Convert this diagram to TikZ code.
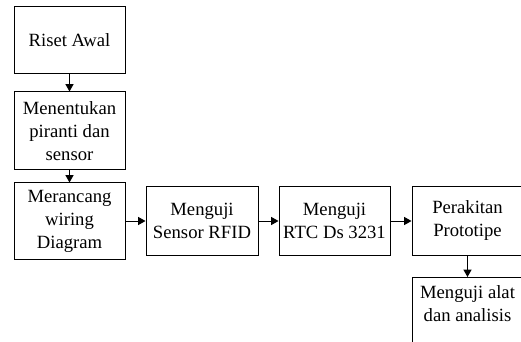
\documentclass[tikz,border=0pt]{standalone}
\usepackage{fontspec}
\setmainfont{Liberation Serif}
\usepackage{tikz}
\usetikzlibrary{arrows.meta,positioning}

\begin{document}
\begin{tikzpicture}[
  x=0.75pt, y=-0.75pt,
  font=\fontsize{14}{17.25}\selectfont,
  line width=0.75pt,
  stepbox/.style={draw, align=center, inner sep=1pt, minimum width=83.25pt, minimum height=51pt},
  flow/.style={-{Triangle[length=5.5pt, width=6pt]}}
]
\useasboundingbox (0,0) rectangle (521,342);
% left column
\node[stepbox, minimum height=50.25pt] (riset) at (69.5,40.5) {Riset Awal};
\node[stepbox, minimum height=58.5pt] (piranti) at (69.5,131) {Menentukan\\piranti dan\\sensor};
\node[stepbox, minimum height=57pt] (wiring) at (69.5,221) {Merancang\\wiring\\Diagram};
% row of tests
\node[stepbox, minimum width=84pt] (rfid) at (202,221) {Menguji\\Sensor RFID};
\node[stepbox] (rtc) at (334.5,221) {Menguji\\RTC Ds 3231};
\node[stepbox] (rakit) at (467.5,221) {Perakitan\\Prototipe};
\node[stepbox, anchor=north] (analisis) at (467.5,277) {Menguji alat\\dan analisis\\[-10.5pt]\strut};
% arrows
\draw[flow] (riset) -- (piranti);
\draw[flow] (piranti) -- (wiring);
\draw[flow] (wiring) -- (rfid);
\draw[flow] (rfid) -- (rtc);
\draw[flow] (rtc) -- (rakit);
\draw[flow] (rakit) -- (analisis);
\end{tikzpicture}
\end{document}
